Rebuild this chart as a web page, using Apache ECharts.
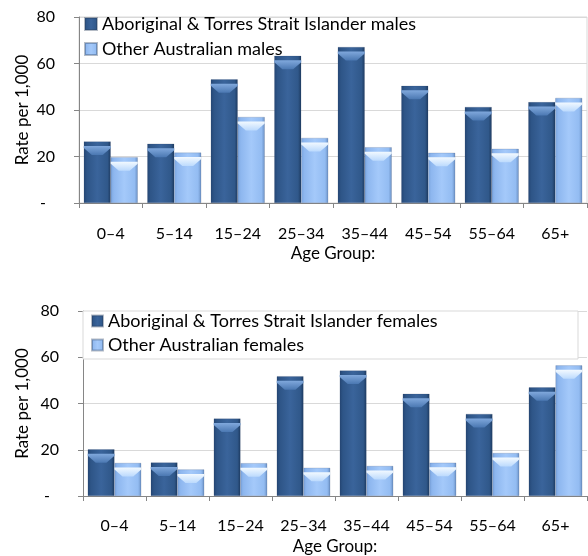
<!DOCTYPE html>
<html>
<head>
<meta charset="utf-8">
<script src="https://cdn.jsdelivr.net/npm/echarts@6/dist/echarts.min.js"></script>
<style>
  html, body { margin: 0; padding: 0; background: #ffffff; }
  #chart { width: 588px; height: 556px; }
</style>
</head>
<body>
<div id="chart"></div>
<script>
// data (rate per 1,000)
const ageGroups = ['0–4', '5–14', '15–24', '25–34', '35–44', '45–54', '55–64', '65+'];
const maleIndigenous = [26.5, 25.5, 53.2, 63.3, 67.1, 50.4, 41.3, 43.4];
const maleOther = [19.7, 21.7, 37.0, 28.0, 24.0, 21.6, 23.3, 45.2];
const femaleIndigenous = [20.2, 14.5, 33.5, 51.8, 54.3, 44.2, 35.5, 47.0];
const femaleOther = [14.3, 11.5, 14.2, 12.2, 13.0, 14.4, 18.6, 56.5];
const yMin = 0, yMax = 80, yStep = 20;

const FONT = 'Lato';
const FS = 16;      // axis numbers / categories
const FS_NAME = 17; // axis titles
const FS_LEG = 18;  // legend

const darkFill = new echarts.graphic.LinearGradient(0, 0, 1, 0, [
  { offset: 0, color: '#244674' },
  { offset: 0.12, color: '#2e5587' },
  { offset: 0.5, color: '#3a649b' },
  { offset: 0.88, color: '#30588a' },
  { offset: 1, color: '#1d3a60' }
]);
const lightFill = new echarts.graphic.LinearGradient(0, 0, 1, 0, [
  { offset: 0, color: '#7ca6df' },
  { offset: 0.12, color: '#8eb7ef' },
  { offset: 0.5, color: '#a4c9fa' },
  { offset: 0.88, color: '#93bcf2' },
  { offset: 1, color: '#6b91c5' }
]);
const darkCap = new echarts.graphic.LinearGradient(0, 0, 0, 1, [
  { offset: 0, color: '#80a8dc' },
  { offset: 1, color: '#4b78b2' }
]);
const lightCap = new echarts.graphic.LinearGradient(0, 0, 0, 1, [
  { offset: 0, color: '#f2f9ff' },
  { offset: 1, color: '#bcdafd' }
]);
const capPath = 'path://M0,0 L20,0 L20,2 L14,9 L6,9 L0,2 Z';

// measure legend text so the lower legend box can run out to the right
const ctx = document.createElement('canvas').getContext('2d');
ctx.font = FS_LEG + 'px ' + FONT;
const longLabel = 'Aboriginal & Torres Strait Islander females';
const longWidth = ctx.measureText(longLabel).width;

function yAxis(gridIndex, gap) {
  return {
    type: 'value',
    gridIndex: gridIndex,
    min: yMin,
    max: yMax,
    interval: yStep,
    name: 'Rate per 1,000',
    nameLocation: 'middle',
    nameRotate: 90,
    nameGap: gap,
    nameMoveOverlap: false,
    nameTextStyle: { color: '#000', fontFamily: FONT, fontSize: FS_NAME },
    axisLine: { show: true, lineStyle: { color: '#868686', width: 1 } },
    axisTick: { show: true, length: 5, lineStyle: { color: '#868686' } },
    splitLine: { show: true, lineStyle: { color: '#d9d9d9', width: 1 } },
    axisLabel: {
      color: '#000',
      fontFamily: FONT,
      fontSize: FS,
      margin: 24,
      formatter: v => v === 0 ? '{d|-}' : String(v),
      rich: { d: { fontFamily: FONT, fontSize: FS, color: '#000', padding: [0, 9, 0, 0] } }
    }
  };
}

function xAxis(gridIndex, labelMargin, gap) {
  return {
    type: 'category',
    gridIndex: gridIndex,
    data: ageGroups,
    boundaryGap: true,
    name: 'Age Group:',
    nameLocation: 'middle',
    nameGap: gap,
    nameMoveOverlap: false,
    nameTextStyle: { color: '#000', fontFamily: FONT, fontSize: FS_NAME },
    axisLine: { show: true, lineStyle: { color: '#868686', width: 1 } },
    axisTick: { show: true, length: 5, alignWithLabel: false, lineStyle: { color: '#868686' } },
    axisLabel: { color: '#000', fontFamily: FONT, fontSize: FS, margin: labelMargin, interval: 0 },
    splitLine: { show: false }
  };
}

function bars(name, data, fill, idx) {
  return {
    name: name,
    type: 'bar',
    xAxisIndex: idx,
    yAxisIndex: idx,
    data: data,
    barGap: '0%',
    barCategoryGap: '15%',
    itemStyle: { color: fill, borderColor: 'rgba(40,60,90,0.35)', borderWidth: 0.5 },
    emphasis: { disabled: true }
  };
}

function caps(data, fill, idx) {
  return {
    type: 'pictorialBar',
    xAxisIndex: idx,
    yAxisIndex: idx,
    data: data,
    barGap: '0%',
    barCategoryGap: '15%',
    symbol: capPath,
    symbolSize: ['100%', 9],
    symbolPosition: 'end',
    symbolOffset: [0, '50%'],
    itemStyle: { color: fill },
    silent: true,
    z: 3
  };
}

const chart = echarts.init(document.getElementById('chart'), null, { renderer: 'canvas' });

const option = {
  animation: false,
  textStyle: { fontFamily: FONT },
  grid: [
    { left: 79, right: 1, top: 17, height: 186, show: true, borderColor: '#d9d9d9', borderWidth: 1, backgroundColor: 'transparent' },
    { left: 83, right: 1, top: 311, height: 186 }
  ],
  legend: [
    {
      orient: 'vertical',
      left: 84,
      top: 15,
      padding: 0,
      itemGap: 7,
      itemWidth: 12,
      itemHeight: 12,
      icon: 'rect',
      selectedMode: false,
      textStyle: { color: '#000', fontFamily: FONT, fontSize: FS_LEG, lineHeight: 18 },
      data: ['Aboriginal & Torres Strait Islander males', 'Other Australian males']
    },
    {
      orient: 'vertical',
      left: 83,
      top: 311,
      padding: [1, Math.max(10, 577 - 83 - 8 - (11 + 5 + longWidth)), 5, 8],
      itemGap: 6,
      itemWidth: 11,
      itemHeight: 11,
      icon: 'rect',
      selectedMode: false,
      backgroundColor: '#ffffff',
      borderColor: '#d9d9d9',
      borderWidth: 1,
      textStyle: { color: '#000', fontFamily: FONT, fontSize: FS_LEG, lineHeight: 18 },
      data: ['Aboriginal & Torres Strait Islander females', 'Other Australian females']
    }
  ],
  xAxis: [xAxis(0, 23, 42), xAxis(1, 22, 42)],
  yAxis: [yAxis(0, 48), yAxis(1, 52)],
  series: [
    bars('Aboriginal & Torres Strait Islander males', maleIndigenous, darkFill, 0),
    bars('Other Australian males', maleOther, lightFill, 0),
    caps(maleIndigenous, darkCap, 0),
    caps(maleOther, lightCap, 0),
    bars('Aboriginal & Torres Strait Islander females', femaleIndigenous, darkFill, 1),
    bars('Other Australian females', femaleOther, lightFill, 1),
    caps(femaleIndigenous, darkCap, 1),
    caps(femaleOther, lightCap, 1)
  ]
};

chart.setOption(option);
</script>
</body>
</html>
